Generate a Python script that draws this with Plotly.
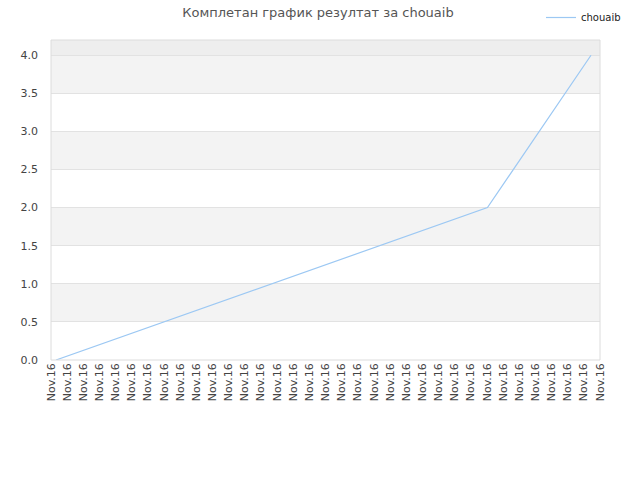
import plotly.graph_objects as go

# ---- data ----
tick_labels = ["Nov.16"] * 35
tick_positions = list(range(35))
game_index = list(range(32))
scores = [0.0] + [None] * 24 + [2.0] + [None] * 5 + [4.0]
series_name = "chouaib"
title_text = "Комплетан график резултат за chouaib"

FONT = "DejaVu Sans"
TXT = "#444444"

fig = go.Figure()
fig.add_trace(go.Scatter(
    x=game_index, y=scores, mode="lines", name=series_name,
    connectgaps=True,
    line=dict(color="#9cc8f3", width=1.2),
    xaxis="x", yaxis="y",
))
# invisible trace to bind the label axis
fig.add_trace(go.Scatter(
    x=tick_positions, y=[None] * len(tick_positions), mode="lines",
    xaxis="x2", yaxis="y", showlegend=False, hoverinfo="skip",
))

# alternating bands
shapes = []
bands = [(0.5, 1.0), (1.5, 2.0), (2.5, 3.0), (3.5, 4.0)]
for y0, y1 in bands:
    shapes.append(dict(type="rect", xref="paper", yref="y", x0=0, x1=1, y0=y0, y1=y1,
                       fillcolor="#f3f3f3", line=dict(width=0), layer="below"))
shapes.append(dict(type="rect", xref="paper", yref="y", x0=0, x1=1, y0=4.0, y1=4.2,
                   fillcolor="#eeeeee", line=dict(width=0), layer="below"))
shapes.append(dict(type="rect", xref="paper", yref="paper", x0=0, x1=1, y0=0, y1=1,
                   line=dict(color="#dcdcdc", width=1), fillcolor="rgba(0,0,0,0)", layer="above"))

n = len(game_index) - 1
span = n * 549 / 535
xa = -5 * span / 549
W, H = 640, 480
fig.update_layout(
    width=W, height=H,
    margin=dict(l=51, r=W - 600, t=40, b=H - 360, autoexpand=False),
    paper_bgcolor="white", plot_bgcolor="white",
    font=dict(family=FONT, color=TXT, size=11),
    title=dict(text=title_text, x=318 / W, xanchor="center", y=1 - 12 / H,
               yanchor="middle", xref="container", yref="container",
               font=dict(family=FONT, size=13, color="#555555")),
    showlegend=True,
    legend=dict(x=541 / W, y=1 - 3 / H, xref="container", yref="container",
                xanchor="left", yanchor="top",
                font=dict(family=FONT, size=10, color="#222222"), bgcolor="rgba(0,0,0,0)",
                itemwidth=30, tracegroupgap=0),
    xaxis=dict(range=[xa, xa + span], showticklabels=False, showgrid=False, zeroline=False,
               fixedrange=True),
    xaxis2=dict(overlaying="x", side="bottom", range=[0, 34], tickmode="array",
                tickvals=tick_positions, ticktext=tick_labels, tickangle=-90,
                showgrid=False, zeroline=False, ticks="",
                tickfont=dict(family=FONT, size=11, color=TXT)),
    yaxis=dict(range=[0, 4.2], tickmode="linear", tick0=0, dtick=0.5, tickformat=".1f",
               showgrid=True, gridcolor="#e2e2e2", gridwidth=1, zeroline=False,
               ticklabelstandoff=12, tickfont=dict(family=FONT, size=11, color=TXT)),
    shapes=shapes,
)

fig.write_html("out.html", config={"displayModeBar": False},
               post_script="document.body.style.margin='0';")
